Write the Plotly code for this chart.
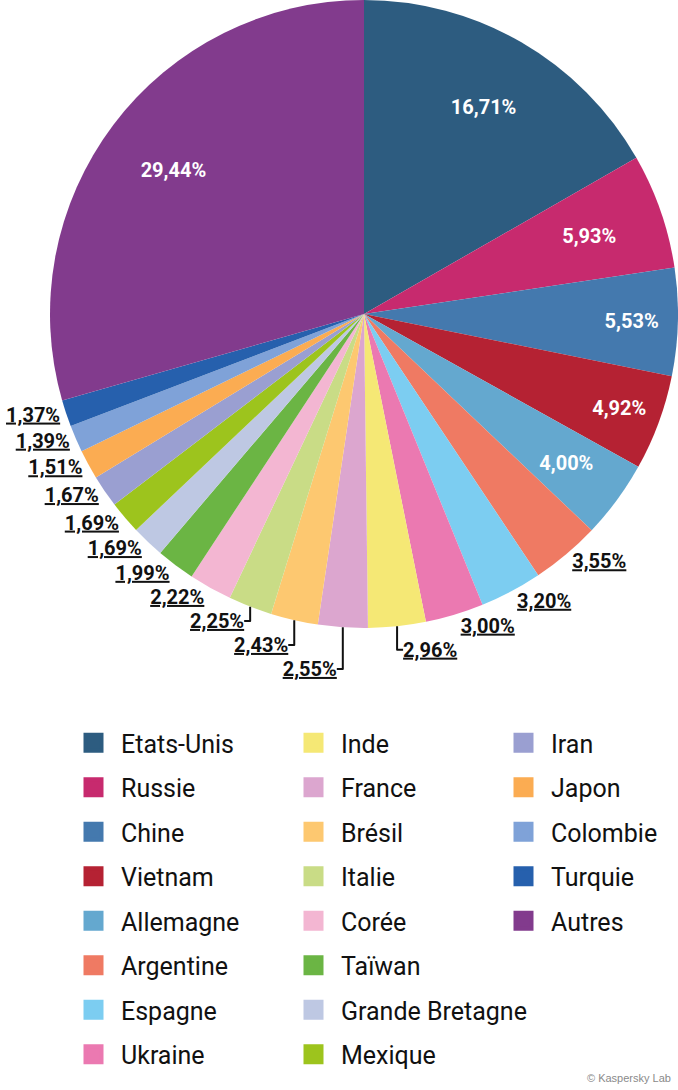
import plotly.graph_objects as go

pays = ["Etats-Unis", "Russie", "Chine", "Vietnam", "Allemagne", "Argentine", "Espagne",
        "Ukraine", "Inde", "France", "Brésil", "Italie", "Corée", "Taïwan",
        "Grande Bretagne", "Mexique", "Iran", "Japon", "Colombie", "Turquie", "Autres"]
parts = [16.71, 5.93, 5.53, 4.92, 4.00, 3.55, 3.20, 3.00, 2.96, 2.55, 2.43, 2.25,
         2.22, 1.99, 1.69, 1.69, 1.67, 1.51, 1.39, 1.37, 29.44]
couleurs = ["#2d5c80", "#c72a6e", "#4479ae", "#b52233", "#64a8cf", "#ef7a63", "#7ccdf1",
            "#eb79b1", "#f5e875", "#dca6cf", "#fdc870", "#c9dc86", "#f3b6d2", "#6bb544",
            "#bec8e3", "#9dc41d", "#9a9fd1", "#fbac52", "#7fa2d8", "#2660ad", "#823b8d"]
# where each slice label goes: inside the ring, inside but pulled in a bit, or outside
placement = ["in", "in_proche", "in", "in", "in_proche"] + ["out"] * 15 + ["in"]

FONT = "Roboto"
FMT = "<b>%{value:.2f}%</b>"
INVISIBLE = ["rgba(0,0,0,0)"] * len(pays)

# pie box: centre (364, 314) px, radius 314 px on a 678 x 1090 page
W, H = 678, 1090
cx, cy, r = 364, 314, 314

def domaine(k):
    return dict(x=[(cx - k * r) / W, (cx + k * r) / W],
                y=[1 - (cy + k * r) / H, 1 - (cy - k * r) / H])

fig = go.Figure()
# the coloured disc, no text
fig.add_trace(go.Pie(
    labels=pays, values=parts, sort=False, direction="clockwise",
    marker=dict(colors=couleurs, line=dict(width=0)),
    textinfo="none", showlegend=False, hoverinfo="label+value", domain=domaine(1),
))
# transparent ring on top: labels of the big slices and the outside labels
fig.add_trace(go.Pie(
    labels=pays, values=parts, sort=False, direction="clockwise", hole=0.52,
    marker=dict(colors=INVISIBLE, line=dict(width=0)),
    textposition=["outside" if p == "out" else "inside" for p in placement],
    texttemplate=[FMT if p == "in" else ("<b><u>%{value:.2f}%</u></b>" if p == "out" else "")
                  for p in placement],
    insidetextorientation="horizontal",
    insidetextfont=dict(color="white", size=20, family=FONT),
    outsidetextfont=dict(color="#111111", size=20, family=FONT),
    showlegend=False, hoverinfo="skip", domain=domaine(1),
))
# transparent, slightly smaller copy, only for two labels that sit nearer the centre
fig.add_trace(go.Pie(
    labels=pays, values=parts, sort=False, direction="clockwise",
    marker=dict(colors=INVISIBLE, line=dict(width=0)),
    textposition="inside",
    texttemplate=[FMT if p == "in_proche" else "" for p in placement],
    insidetextorientation="horizontal",
    insidetextfont=dict(color="white", size=20, family=FONT),
    showlegend=False, hoverinfo="skip", domain=domaine(0.9),
))

# legend: three columns of eight / eight / five entries
colonnes = ["legend", "legend2", "legend3"]
for i, (nom, c) in enumerate(zip(pays, couleurs)):
    fig.add_trace(go.Scatter(
        x=[None], y=[None], mode="markers", name=nom,
        marker=dict(symbol="square", size=16, color=c, line=dict(color=c, width=4)),
        legend=colonnes[min(i // 8, 2)], legendgroup=nom, showlegend=True,
    ))

leg = dict(font=dict(size=25, family=FONT, color="#111111"), yanchor="top", y=1 - 720 / H,
           xanchor="left", tracegroupgap=9, bgcolor="rgba(0,0,0,0)", itemwidth=45)

fig.update_layout(
    width=W, height=H,
    margin=dict(l=0, r=0, t=0, b=0, autoexpand=False),
    paper_bgcolor="white", plot_bgcolor="white",
    separators=", ",
    xaxis=dict(visible=False), yaxis=dict(visible=False),
    legend=dict(leg, x=66 / W),
    legend2=dict(leg, x=286 / W),
    legend3=dict(leg, x=496 / W),
    annotations=[dict(text="© Kaspersky Lab", x=1, y=0, xref="paper", yref="paper",
                      xanchor="right", yanchor="bottom", showarrow=False, xshift=-5, yshift=4,
                      font=dict(size=11, color="#8a8a8a", family="Liberation Sans, Arial, sans-serif"))],
)

# the page body keeps its default 8px margin otherwise
fig.write_html("out.html", config={"displayModeBar": False},
               post_script="document.body.style.margin='0';")
